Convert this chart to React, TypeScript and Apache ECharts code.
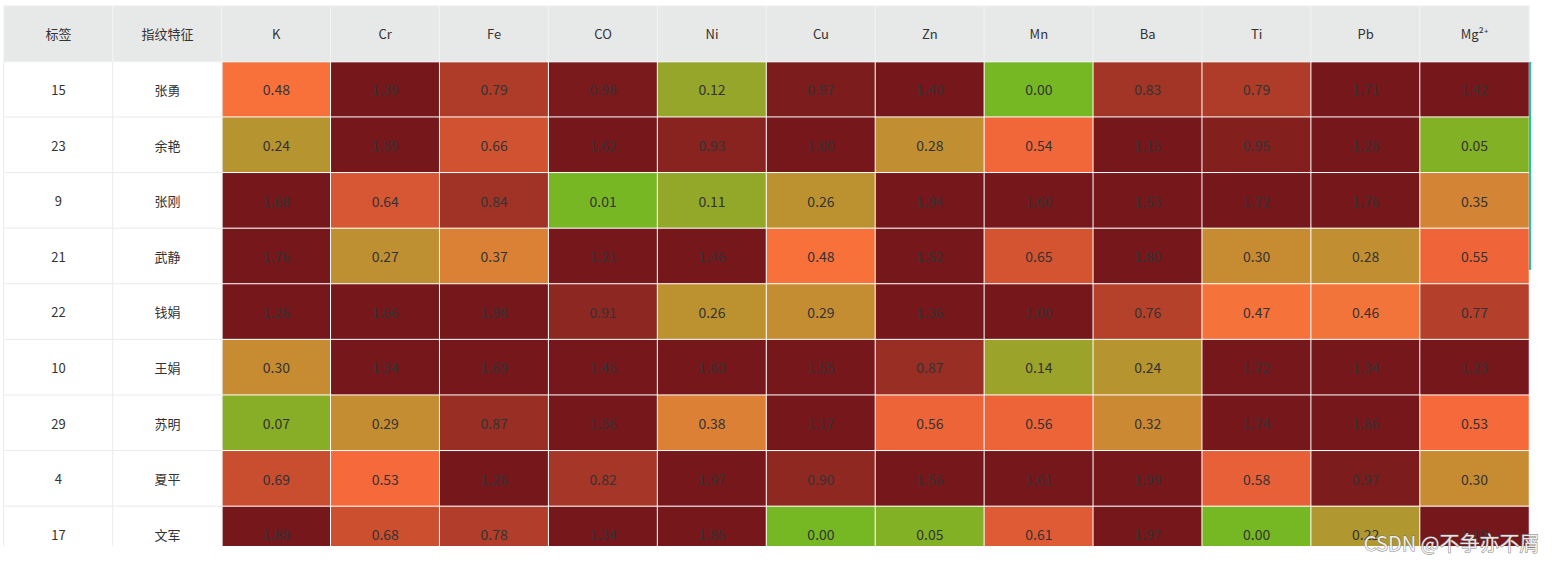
import React, { useEffect, useRef } from 'react';
import * as echarts from 'echarts';

const headers = ['标签', '指纹特征', 'K', 'Cr', 'Fe', 'CO', 'Ni', 'Cu', 'Zn', 'Mn', 'Ba', 'Ti', 'Pb', 'Mg²⁺'];
const tags = ['15', '23', '9', '21', '22', '10', '29', '4', '17'];
const names = ['张勇', '余艳', '张刚', '武静', '钱娟', '王娟', '苏明', '夏平', '文军'];

const row15 = [0.48, 1.39, 0.79, 0.98, 0.12, 0.97, 1.40, 0.00, 0.83, 0.79, 1.71, 1.42];
const row23 = [0.24, 1.59, 0.66, 1.62, 0.93, 1.00, 0.28, 0.54, 1.15, 0.95, 1.28, 0.05];
const row9 = [1.68, 0.64, 0.84, 0.01, 0.11, 0.26, 1.94, 1.60, 1.53, 1.72, 1.76, 0.35];
const row21 = [1.76, 0.27, 0.37, 1.21, 1.46, 0.48, 1.52, 0.65, 1.80, 0.30, 0.28, 0.55];
const row22 = [1.26, 1.66, 1.98, 0.91, 0.26, 0.29, 1.36, 1.00, 0.76, 0.47, 0.46, 0.77];
const row10 = [0.30, 1.34, 1.69, 1.45, 1.60, 1.55, 0.87, 0.14, 0.24, 1.72, 1.34, 1.23];
const row29 = [0.07, 0.29, 0.87, 1.56, 0.38, 1.17, 0.56, 0.56, 0.32, 1.74, 1.66, 0.53];
const row4 = [0.69, 0.53, 1.26, 0.82, 1.97, 0.90, 1.56, 1.61, 1.99, 0.58, 0.97, 0.30];
const row17 = [1.88, 0.68, 0.78, 1.34, 1.85, 0.00, 0.05, 0.61, 1.97, 0.00, 0.22, 1.10];
const values = [row15, row23, row9, row21, row22, row10, row29, row4, row17];

const FONT = '"Noto Sans CJK SC", "Noto Sans", sans-serif';

export default function App() {
  const ref = useRef<HTMLDivElement>(null);
  useEffect(() => {
    const chart = echarts.init(ref.current as HTMLDivElement, null, { renderer: 'svg' });
    const rowsCount = tags.length + 1;
    const heatData: number[][] = [];
    values.forEach((row, r) => row.forEach((v, c) => heatData.push([c + 2, r + 1, v])));
    const nameData: number[][] = [];
    tags.forEach((_, r) => {
      nameData.push([0, r + 1, 0]);
      nameData.push([1, r + 1, 0]);
    });
    const headData = headers.map((_, c) => [c, 0, 0]);
    chart.setOption({
      animation: false,
      grid: { left: 4, top: 6, width: 1525, height: 56 * rowsCount },
      xAxis: { type: 'category', data: headers, show: false },
      yAxis: { type: 'category', data: ['header', ...tags], inverse: true, show: false },
      visualMap: [
        {
          show: false,
          seriesIndex: 0,
          min: 0,
          max: 1,
          dimension: 2,
          inRange: { color: ['#75b824', '#fd6e3c', '#75171b'] },
        },
        {
          show: false,
          seriesIndex: 1,
          min: 0,
          max: 1,
          dimension: 2,
          inRange: { color: ['#ffffff', '#ffffff'] },
        },
        {
          show: false,
          seriesIndex: 2,
          min: 0,
          max: 1,
          dimension: 2,
          inRange: { color: ['#e7e8e8', '#e7e8e8'] },
        },
      ],
      series: [
        {
          type: 'heatmap',
          data: heatData,
          itemStyle: { borderColor: '#ffffff', borderWidth: 1 },
          emphasis: { disabled: true },
          label: {
            show: true,
            color: '#333333',
            fontSize: 14,
            fontFamily: FONT,
            formatter: (p: any) => Number(p.value[2]).toFixed(2),
          },
        },
        {
          type: 'heatmap',
          data: nameData,
          itemStyle: { borderColor: '#ebebeb', borderWidth: 1 },
          emphasis: { disabled: true },
          label: {
            show: true,
            color: '#333333',
            fontSize: 13,
            fontFamily: FONT,
            formatter: (p: any) => (p.value[0] === 0 ? tags[p.value[1] - 1] : names[p.value[1] - 1]),
          },
        },
        {
          type: 'heatmap',
          data: headData,
          itemStyle: { borderColor: '#f3f3f3', borderWidth: 1 },
          emphasis: { disabled: true },
          label: {
            show: true,
            color: '#333333',
            fontSize: 13,
            fontFamily: FONT,
            formatter: (p: any) => headers[p.value[0]],
          },
        },
      ],
      graphic: [
        {
          type: 'rect',
          left: 1529,
          top: 62,
          shape: { width: 2, height: 208 },
          style: { fill: '#1cc3ae' },
          z: 50,
        },
        {
          type: 'rect',
          left: 0,
          top: 546,
          shape: { width: 1554, height: 16 },
          style: { fill: '#ffffff' },
          z: 100,
        },
        {
          type: 'text',
          right: 14,
          top: 532,
          style: {
            text: 'CSDN @不争亦不屑',
            fill: 'rgba(255,255,255,0.85)',
            stroke: 'rgba(110,110,110,0.85)',
            lineWidth: 1,
            font: '20px ' + FONT,
          },
          z: 101,
        },
      ],
    });
    return () => chart.dispose();
  }, []);
  return (
    <div
      ref={ref}
      style={{ position: 'absolute', left: 0, top: 0, width: 1554, height: 562 }}
    />
  );
}
